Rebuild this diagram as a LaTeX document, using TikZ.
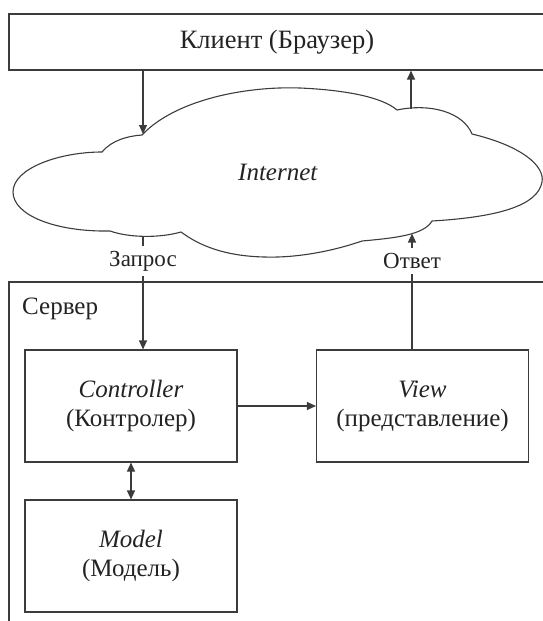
\documentclass[tikz,border=0pt]{standalone}
\usepackage{fontspec}
\setmainfont{Liberation Serif}
\newfontfamily\timesfont{Liberation Serif}
\usepackage{tikz}
\definecolor{lineg}{RGB}{60,60,60}
\definecolor{textg}{RGB}{35,35,35}
\usetikzlibrary{arrows.meta,positioning}

\tikzset{
  box/.style={draw=lineg,line width=1.1pt,minimum width=212pt,minimum height=112pt,
    inner sep=0pt,align=center,text=textg,font=\timesfont\fontsize{25}{29}\selectfont},
  lbl/.style={text=textg,font=\timesfont\fontsize{25}{29}\selectfont,inner xsep=1pt,inner ysep=5pt},
  small/.style={font=\timesfont\fontsize{23}{27}\selectfont},
  conn/.style={draw=lineg,line width=1.1pt},
  arr/.style={conn,-{Triangle[length=9pt,width=8pt]}},
  darr/.style={conn,{Triangle[length=9pt,width=8pt]}-{Triangle[length=9pt,width=8pt]}}
}

\begin{document}
\begin{tikzpicture}[x=1pt,y=-1pt]
  \useasboundingbox (0,0) rectangle (543,621);
  % Client
  \node[box,minimum width=536pt,minimum height=56pt,font=\timesfont\fontsize{26.5}{30}\selectfont]
    (client) at (277,42) {Клиент (Браузер)};
  % Internet cloud
  \draw[conn] (142,135) .. controls (175,100) and (245,86) .. (300,88)
    .. controls (345,90) and (382,97) .. (397,110)
    .. controls (430,103) and (463,112) .. (472,134)
    .. controls (522,146) and (545,166) .. (542,182)
    .. controls (538,205) and (500,217) .. (432,221)
    .. controls (424,235) and (395,238) .. (362,241)
    .. controls (330,252) and (295,258) .. (264,257)
    .. controls (225,256) and (200,246) .. (181,232)
    .. controls (160,238) and (130,238) .. (110,231)
    .. controls (55,232) and (13,215) .. (13,192)
    .. controls (13,168) and (60,152) .. (102,152)
    .. controls (112,140) and (128,136) .. cycle;
  \node[lbl] (internet) at (278,172) {\textit{Internet}};
  \coordinate (cin) at (143,134);
  \coordinate (cout) at (411,109);
  \coordinate (creq) at (143,237);
  \coordinate (cresp) at (412,233.5);
  % Server
  \draw[conn] (560,282) -- (9,282) -- (9,640);
  \node[lbl,anchor=west] (server) at (21,309) {Сервер};
  \node[box] (ctrl) at (131,406) {\textit{Controller}\\(Контролер)};
  \node[box] (view) at (422.5,406) {\textit{View}\\(представление)};
  \node[box] (model) at (131,556) {\textit{Model}\\(Модель)};
  % Labels
  \node[lbl,small] (req) at (143,261) {Запрос};
  \node[lbl,small] (resp) at (412,261) {Ответ};
  % Connectors
  \draw[arr] (client.south -| cin) -- (cin);
  \draw[arr] (cout) -- (cout |- client.south);
  \draw[conn] (creq) -- (req.north);
  \draw[arr] (req.south) -- (req.south |- ctrl.north);
  \draw[arr] (resp.north) -- (cresp);
  \draw[conn] (resp.south |- view.north) -- (resp.south);
  \draw[arr] (ctrl) -- (view);
  \draw[darr] (ctrl.south) -- (model.north);
\end{tikzpicture}
\end{document}
